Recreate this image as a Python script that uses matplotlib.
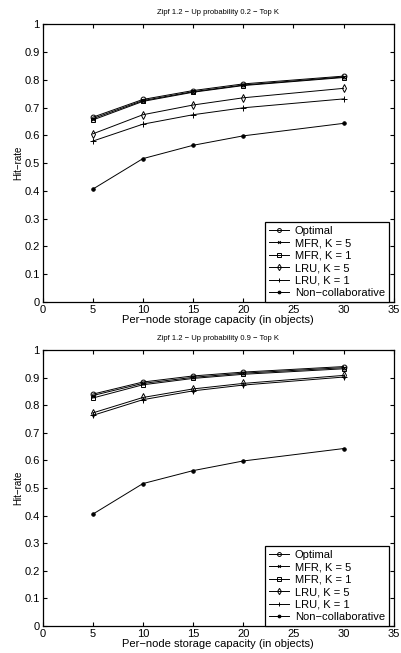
import matplotlib
matplotlib.use('Agg')
import matplotlib.pyplot as plt

plt.rcParams['font.family'] = ['Liberation Sans', 'DejaVu Sans']

capacity = [5, 10, 15, 20, 30]
labels = ['Optimal', 'MFR, K = 5', 'MFR, K = 1', 'LRU, K = 5', 'LRU, K = 1', 'Non\u2212collaborative']
titles = ['Zipf 1.2 \u2212 Up probability 0.2 \u2212 Top K',
          'Zipf 1.2 \u2212 Up probability 0.9 \u2212 Top K']

# up probability 0.2
top_optimal = [0.665, 0.729, 0.761, 0.785, 0.813]
top_mfr5 = [0.660, 0.725, 0.757, 0.781, 0.810]
top_mfr1 = [0.655, 0.722, 0.755, 0.779, 0.808]
top_lru5 = [0.605, 0.674, 0.709, 0.735, 0.769]
top_lru1 = [0.579, 0.640, 0.674, 0.699, 0.731]
top_noncollab = [0.406, 0.516, 0.564, 0.598, 0.643]

# up probability 0.9
bot_optimal = [0.840, 0.884, 0.906, 0.920, 0.940]
bot_mfr5 = [0.835, 0.879, 0.901, 0.916, 0.936]
bot_mfr1 = [0.826, 0.874, 0.897, 0.912, 0.932]
bot_lru5 = [0.772, 0.828, 0.859, 0.879, 0.908]
bot_lru1 = [0.763, 0.820, 0.852, 0.873, 0.902]
bot_noncollab = [0.405, 0.516, 0.563, 0.598, 0.643]

markers = [dict(marker='o', mfc='none', ms=3.5),
           dict(marker='x', ms=2.5),
           dict(marker='s', mfc='none', ms=3),
           dict(marker='d', mfc='none', ms=4),
           dict(marker='+', ms=4),
           dict(marker='.', ms=5)]

fig = plt.figure(figsize=(4.01, 6.53), dpi=100)
ax1 = fig.add_axes([0.106, 0.5375, 0.876, 0.4255])
ax2 = fig.add_axes([0.106, 0.0413, 0.876, 0.4227])

series = [[top_optimal, top_mfr5, top_mfr1, top_lru5, top_lru1, top_noncollab],
          [bot_optimal, bot_mfr5, bot_mfr1, bot_lru5, bot_lru1, bot_noncollab]]

for ax, data, title in zip([ax1, ax2], series, titles):
    for vals, lab, mk in zip(data, labels, markers):
        ax.plot(capacity, vals, color='black', lw=0.7, mew=0.7, label=lab, **mk)
    ax.set_xlim(0, 35)
    ax.set_ylim(0, 1)
    ax.set_xticks(range(0, 36, 5))
    ax.set_yticks([i / 10 for i in range(11)])
    ax.set_yticklabels(['0', '0.1', '0.2', '0.3', '0.4', '0.5', '0.6', '0.7', '0.8', '0.9', '1'])
    ax.tick_params(direction='in', top=True, right=True, labelsize=8, length=3, width=0.8, pad=2)
    for s in ax.spines.values():
        s.set_linewidth(0.9)
    ax.set_title(title, fontsize=5.5, pad=7)
    ax.set_xlabel('Per\u2212node storage capacity (in objects)', fontsize=8, labelpad=0)
    ax.set_ylabel('Hit\u2212rate', fontsize=7, labelpad=1)
    leg = ax.legend(loc='lower right', bbox_to_anchor=(0.986, 0.0), fontsize=8,
                    fancybox=False, edgecolor='black', framealpha=1, borderpad=0.35,
                    labelspacing=0.22, handlelength=1.8, handletextpad=0.5,
                    borderaxespad=0.0, markerscale=0.8)
    leg.get_frame().set_linewidth(0.9)

fig.savefig('out.png', dpi=100)
